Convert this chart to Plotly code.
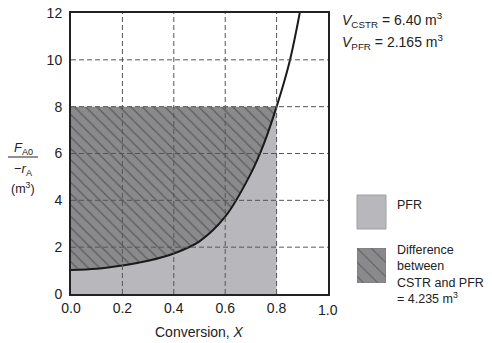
import plotly.graph_objects as go

# ---- data ----
conversion = [0.0, 0.1, 0.2, 0.3, 0.4, 0.5, 0.6, 0.7, 0.75, 0.8, 0.85, 0.89]
fa0_over_ra = [1.03, 1.08, 1.22, 1.42, 1.73, 2.25, 3.3, 5.15, 6.4, 8.0, 9.9, 12.0]
x_final = 0.8
cstr_height = 8.0
x_ticks = [0.0, 0.2, 0.4, 0.6, 0.8]
x_tick_text = ["0.0", "0.2", "0.4", "0.6", "0.8"]
y_ticks = [0, 2, 4, 6, 8, 10, 12]
x_grid = [0.2, 0.4, 0.6, 0.8]
y_grid = [2, 4, 6, 8, 10]

FONT = "Liberation Sans, Arial, Helvetica, sans-serif"
LIGHT = "#b8b8bc"
DARK = "#8a8a8d"
HATCH = "#2b2b2b"

# page has an 8px body margin, so the figure is 8px smaller than the window
OFF = 8
W, H = 492 - OFF, 343 - OFF
PLOT_LEFT, PLOT_TOP, PLOT_BOTTOM, PLOT_RIGHT = 71, 13, 294, 328   # in window pixels
L = PLOT_LEFT - OFF
T = PLOT_TOP - OFF
B = (H + OFF) - PLOT_BOTTOM
R = 10
PW = W - L - R
PH = H - T - B


def xp(px):
    return (px - PLOT_LEFT) / PW


def yp(py):
    return (PLOT_BOTTOM - py) / PH


xs_pfr = [x for x in conversion if x <= x_final]
ys_pfr = fa0_over_ra[:len(xs_pfr)]

fig = go.Figure()

# PFR area (under curve up to X = 0.8)
fig.add_trace(go.Scatter(
    x=xs_pfr, y=ys_pfr, mode="lines", line=dict(width=0, shape="spline", color=LIGHT),
    fill="tozeroy", fillcolor=LIGHT, hoverinfo="skip", showlegend=False))

# Difference area (between curve and CSTR rectangle)
fig.add_trace(go.Scatter(
    x=[0.0, x_final], y=[cstr_height, cstr_height], mode="lines", line=dict(width=0, color=DARK),
    fill="tonexty", fillcolor=DARK,
    fillpattern=dict(shape="\\", bgcolor=DARK, fgcolor=HATCH, size=8, solidity=0.15),
    hoverinfo="skip", showlegend=False))

# Levenspiel curve
fig.add_trace(go.Scatter(
    x=conversion, y=fa0_over_ra, mode="lines",
    line=dict(color="#1a1a1a", width=2, shape="spline"), showlegend=False))

# Legend swatch with hatch pattern (on its own small axes)
fig.add_trace(go.Scatter(
    x=[0, 1, 1, 0, 0], y=[0, 0, 1, 1, 0], mode="lines", xaxis="x2", yaxis="y2",
    line=dict(width=1, color="#7a7a7c"), fill="toself", fillcolor=DARK,
    fillpattern=dict(shape="\\", bgcolor=DARK, fgcolor=HATCH, size=10, solidity=0.1),
    hoverinfo="skip", showlegend=False))

shapes = []
for gx in x_grid:
    shapes.append(dict(type="line", xref="x", yref="y", x0=gx, x1=gx, y0=0, y1=12,
                       line=dict(color="#555555", width=1, dash="5px,3px"), layer="above"))
for gy in y_grid:
    shapes.append(dict(type="line", xref="x", yref="y", x0=0, x1=1.0, y0=gy, y1=gy,
                       line=dict(color="#555555", width=1, dash="5px,3px"), layer="above"))
# PFR legend swatch
shapes.append(dict(type="rect", xref="paper", yref="paper",
                   x0=xp(357), x1=xp(386), y0=yp(229), y1=yp(195),
                   fillcolor=LIGHT, line=dict(color="#a0a0a4", width=1)))
# fraction bar of the y-axis label
shapes.append(dict(type="line", xref="paper", yref="paper", x0=xp(8), x1=xp(38),
                   y0=yp(157), y1=yp(157), line=dict(color="#222", width=1)))

annotations = [
    dict(x=1.0, y=yp(310), xref="x", yref="paper", text="1.0", showarrow=False,
         font=dict(size=14, color="#222"), xanchor="center", yanchor="middle"),
    dict(x=xp(199), y=yp(332), xref="paper", yref="paper", text="Conversion, <i>X</i>",
         showarrow=False, font=dict(size=14, color="#222"), xanchor="center", yanchor="middle"),
    dict(x=xp(23), y=yp(148), xref="paper", yref="paper", text="<i>F</i><sub>A0</sub>",
         showarrow=False, font=dict(size=13, color="#222"), xanchor="center", yanchor="middle"),
    dict(x=xp(23), y=yp(169), xref="paper", yref="paper", text="−<i>r</i><sub>A</sub>",
         showarrow=False, font=dict(size=13, color="#222"), xanchor="center", yanchor="middle"),
    dict(x=xp(23), y=yp(188), xref="paper", yref="paper", text="(m<sup>3</sup>)",
         showarrow=False, font=dict(size=12.5, color="#222"), xanchor="center", yanchor="middle"),
    dict(x=xp(340), y=yp(20), xref="paper", yref="paper",
         text="<i>V</i><sub>CSTR</sub> = 6.40 m<sup>3</sup>",
         showarrow=False, font=dict(size=14, color="#222"), xanchor="left", yanchor="middle"),
    dict(x=xp(340), y=yp(42), xref="paper", yref="paper",
         text="<i>V</i><sub>PFR</sub> = 2.165 m<sup>3</sup>",
         showarrow=False, font=dict(size=14, color="#222"), xanchor="left", yanchor="middle"),
    dict(x=xp(395), y=yp(205), xref="paper", yref="paper", text="PFR",
         showarrow=False, font=dict(size=12.5, color="#222"), xanchor="left", yanchor="middle"),
    dict(x=xp(395), y=yp(274), xref="paper", yref="paper",
         text="Difference<br>between<br>CSTR and PFR<br>= 4.235 m<sup>3</sup>", align="left",
         showarrow=False, font=dict(size=12.5, color="#222"), xanchor="left", yanchor="middle"),
]

fig.update_layout(
    width=W, height=H, margin=dict(l=L, r=R, t=T, b=B, autoexpand=False),
    paper_bgcolor="white", plot_bgcolor="white",
    font=dict(family=FONT, size=14, color="#222"),
    xaxis=dict(range=[0, 1.0], domain=[0, xp(PLOT_RIGHT)], tickmode="array",
               tickvals=x_ticks, ticktext=x_tick_text, showgrid=False, zeroline=False,
               showline=True, linecolor="#222", linewidth=2, mirror=True,
               ticks="", ticklabelstandoff=0, ticklabeloverflow="allow", automargin=False),
    yaxis=dict(range=[0, 12], domain=[0, 1], tickmode="array", tickvals=y_ticks,
               showgrid=False, zeroline=False, showline=True, linecolor="#222",
               linewidth=2, mirror=True, ticks="", ticklabelstandoff=4,
               ticklabeloverflow="allow", automargin=False),
    xaxis2=dict(domain=[xp(357), xp(386)], range=[0, 1], visible=False, anchor="y2"),
    yaxis2=dict(domain=[yp(283), yp(248)], range=[0, 1], visible=False, anchor="x2"),
    shapes=shapes, annotations=annotations,
)

fig.write_html("out.html")
